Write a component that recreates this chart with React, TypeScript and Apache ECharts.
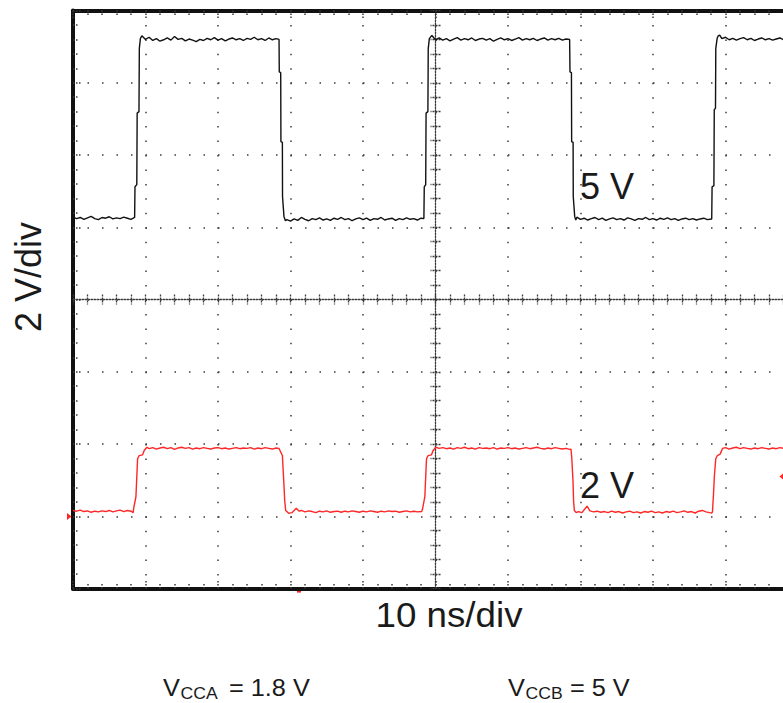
import React, { useEffect, useRef } from "react";
import * as echarts from "echarts";

// Axis scales (time in ns, voltage in V)
const timeRange = [0, 100];
const timeStep = 10;
const voltRange = [-8, 8];
const voltStep = 2;

// Texts
const xLabel = "10 ns/div";
const yLabel = "2 V/div";
const blackTag = "5 V";
const redTag = "2 V";
const vccaParts = ["V", "CCA", "= 1.8 V"];
const vccbParts = ["V", "CCB", "= 5 V"];

// Black trace (5 V channel): [time ns, volts]
const blackTrace: [number, number][] = [
  [0, 2.28], [0.5, 2.24], [1, 2.27], [1.5, 2.22], [2, 2.26], [2.5, 2.3], [3, 2.24], [3.5, 2.21], [4, 2.27],
  [4.5, 2.25], [5, 2.29], [5.5, 2.23], [6, 2.26], [6.5, 2.24], [7, 2.28], [7.5, 2.25], [8, 2.22], [8.5, 2.27],
  [8.55, 3.12], [8.8, 3.18], [8.85, 5.16], [9.1, 5.2], [9.15, 6.95], [9.3, 7.23],
  [9.5, 7.3], [10, 7.2], [10.5, 7.26], [11, 7.17], [11.5, 7.22], [12, 7.15], [12.5, 7.19], [13, 7.24], [13.5, 7.18],
  [14, 7.28], [14.5, 7.2], [15, 7.23], [15.5, 7.16], [16, 7.21], [16.5, 7.18], [17, 7.14], [17.5, 7.2], [18, 7.17],
  [18.5, 7.23], [19, 7.19], [19.5, 7.25], [20, 7.18], [20.5, 7.22], [21, 7.16], [21.5, 7.21], [22, 7.24], [22.5, 7.19],
  [23, 7.22], [23.5, 7.17], [24, 7.23], [24.5, 7.2], [25, 7.26], [25.5, 7.19], [26, 7.22], [26.5, 7.17], [27, 7.24],
  [27.5, 7.19], [28, 7.22], [28.42, 7.2],
  [28.45, 6.3], [28.65, 6.28], [28.68, 4.37], [28.88, 4.35], [28.9, 2.85], [29.1, 2.3], [29.3, 2.18],
  [29.5, 2.21], [30, 2.17], [30.5, 2.23], [31, 2.19], [31.5, 2.27], [32, 2.22], [32.5, 2.18], [33, 2.24], [33.5, 2.21],
  [34, 2.26], [34.5, 2.2], [35, 2.23], [35.5, 2.19], [36, 2.25], [36.5, 2.22], [37, 2.27], [37.5, 2.21], [38, 2.24],
  [38.5, 2.18], [39, 2.23], [39.5, 2.26], [40, 2.21], [40.5, 2.25], [41, 2.19], [41.5, 2.24], [42, 2.22], [42.5, 2.27],
  [43, 2.2], [43.5, 2.23], [44, 2.25], [44.5, 2.19], [45, 2.24], [45.5, 2.21], [46, 2.26], [46.5, 2.22], [47, 2.24],
  [47.5, 2.2], [48, 2.25], [48.4, 2.24],
  [48.45, 3.12], [48.65, 3.18], [48.7, 5.16], [48.95, 5.2], [49, 6.95], [49.15, 7.22],
  [49.5, 7.31], [50, 7.19], [50.5, 7.24], [51, 7.18], [51.5, 7.22], [52, 7.16], [52.5, 7.21], [53, 7.25], [53.5, 7.18],
  [54, 7.22], [54.5, 7.19], [55, 7.24], [55.5, 7.17], [56, 7.21], [56.5, 7.23], [57, 7.18], [57.5, 7.22], [58, 7.15],
  [58.5, 7.2], [59, 7.24], [59.5, 7.19], [60, 7.22], [60.5, 7.17], [61, 7.21], [61.5, 7.25], [62, 7.18], [62.5, 7.22],
  [63, 7.19], [63.5, 7.23], [64, 7.17], [64.5, 7.21], [65, 7.24], [65.5, 7.18], [66, 7.22], [66.5, 7.19], [67, 7.23],
  [67.5, 7.18], [68, 7.21], [68.5, 7.2],
  [68.55, 6.3], [68.75, 6.28], [68.78, 4.37], [68.98, 4.35], [69.0, 2.85], [69.2, 2.3], [69.35, 2.2],
  [69.5, 2.28], [70, 2.22], [70.5, 2.25], [71, 2.2], [71.5, 2.24], [72, 2.27], [72.5, 2.21], [73, 2.25], [73.5, 2.19],
  [74, 2.23], [74.5, 2.26], [75, 2.21], [75.5, 2.24], [76, 2.2], [76.5, 2.26], [77, 2.23], [77.5, 2.19], [78, 2.24],
  [78.5, 2.22], [79, 2.27], [79.5, 2.21], [80, 2.24], [80.5, 2.2], [81, 2.25], [81.5, 2.22], [82, 2.26], [82.5, 2.21],
  [83, 2.24], [83.5, 2.19], [84, 2.23], [84.5, 2.25], [85, 2.21], [85.5, 2.24], [86, 2.2], [86.5, 2.23], [87, 2.25],
  [87.5, 2.21], [88.1, 2.23],
  [88.15, 3.12], [88.4, 3.15], [88.45, 5.25], [88.62, 5.3], [88.66, 6.95], [88.85, 7.23], [89, 7.3], [89.2, 7.32],
  [89.5, 7.22], [90, 7.26], [90.5, 7.19], [91, 7.23], [91.5, 7.18], [92, 7.22], [92.5, 7.25], [93, 7.19], [93.5, 7.23],
  [94, 7.17], [94.5, 7.21], [95, 7.24], [95.5, 7.19], [96, 7.22], [96.5, 7.18], [97, 7.21], [97.5, 7.24], [98, 7.19],
  [98.5, 7.22], [99, 7.18], [99.5, 7.21], [100, 7.2],
];

// Red trace (2 V channel): [time ns, volts]
const redTrace: [number, number][] = [
  [0, -5.84], [0.5, -5.86], [1, -5.83], [1.5, -5.87], [2, -5.85], [2.5, -5.89], [3, -5.86], [3.5, -5.88], [4, -5.85],
  [4.5, -5.87], [5, -5.84], [5.5, -5.88], [6, -5.85], [6.5, -5.83], [7, -5.87], [7.5, -5.84], [8, -5.86], [8.3, -5.9],
  [8.36, -5.79], [8.68, -5.46], [8.91, -4.41], [9.13, -4.32], [9.6, -4.3], [9.82, -4.18], [10.19, -4.09],
  [10.5, -4.13], [11, -4.1], [11.5, -4.14], [12, -4.11], [12.5, -4.09], [13, -4.13], [13.5, -4.1], [14, -4.15],
  [14.5, -4.11], [15, -4.09], [15.5, -4.12], [16, -4.1], [16.5, -4.14], [17, -4.11], [17.5, -4.13], [18, -4.1],
  [18.5, -4.12], [19, -4.14], [19.5, -4.11], [20, -4.1], [20.5, -4.13], [21, -4.11], [21.5, -4.14], [22, -4.12],
  [22.5, -4.1], [23, -4.13], [23.5, -4.11], [24, -4.12], [24.5, -4.1], [25, -4.14], [25.5, -4.11], [26, -4.13],
  [26.5, -4.1], [27, -4.12], [27.5, -4.14], [28, -4.11], [28.4, -4.12],
  [28.55, -4.18], [28.88, -4.32], [29.1, -5.15], [29.2, -5.57], [29.34, -5.84], [29.75, -5.92],
  [30.2, -5.9], [30.8, -5.78], [31.2, -5.86], [31.5, -5.84], [32, -5.88], [32.5, -5.85], [33, -5.87], [33.5, -5.9],
  [34, -5.86], [34.5, -5.88], [35, -5.85], [35.5, -5.89], [36, -5.87], [36.5, -5.86], [37, -5.89], [37.5, -5.86],
  [38, -5.88], [38.5, -5.85], [39, -5.87], [39.5, -5.89], [40, -5.86], [40.5, -5.88], [41, -5.85], [41.5, -5.87],
  [42, -5.89], [42.5, -5.86], [43, -5.88], [43.5, -5.85], [44, -5.87], [44.5, -5.86], [45, -5.89], [45.5, -5.87],
  [46, -5.85], [46.5, -5.88], [47, -5.86], [47.5, -5.88], [48.1, -5.87],
  [48.21, -5.8], [48.53, -5.46], [48.76, -4.41], [48.98, -4.32], [49.45, -4.3], [49.67, -4.18], [50.04, -4.09],
  [50.5, -4.12], [51, -4.1], [51.5, -4.13], [52, -4.11], [52.5, -4.14], [53, -4.1], [53.5, -4.12], [54, -4.09],
  [54.5, -4.13], [55, -4.11], [55.5, -4.14], [56, -4.1], [56.5, -4.12], [57, -4.11], [57.5, -4.13], [58, -4.1],
  [58.5, -4.14], [59, -4.11], [59.5, -4.12], [60, -4.1], [60.5, -4.13], [61, -4.11], [61.5, -4.14], [62, -4.12],
  [62.5, -4.1], [63, -4.13], [63.5, -4.11], [64, -4.09], [64.5, -4.12], [65, -4.14], [65.5, -4.11], [66, -4.13],
  [66.5, -4.1], [67, -4.12], [67.5, -4.14], [68, -4.12], [68.5, -4.15],
  [68.69, -4.14], [68.8, -4.4], [68.97, -5.05], [69.05, -5.6], [69.15, -5.84], [69.4, -5.9],
  [69.7, -5.87], [70.2, -5.9], [70.9, -5.72], [71.3, -5.85], [71.8, -5.88], [72.3, -5.86], [72.8, -5.89], [73.3, -5.87],
  [73.8, -5.9], [74.3, -5.86], [74.8, -5.89], [75.3, -5.87], [75.8, -5.91], [76.3, -5.88], [76.8, -5.86], [77.3, -5.9],
  [77.8, -5.88], [78.3, -5.91], [78.8, -5.87], [79.3, -5.89], [79.8, -5.86], [80.3, -5.9], [80.8, -5.88], [81.3, -5.91],
  [81.8, -5.87], [82.3, -5.89], [82.8, -5.86], [83.3, -5.9], [83.8, -5.88], [84.3, -5.85], [84.8, -5.89], [85.3, -5.87],
  [85.8, -5.91], [86.3, -5.86], [86.8, -5.84], [87.3, -5.88], [87.8, -5.9], [88.1, -5.91],
  [88.2, -5.88], [88.33, -5.44], [88.47, -4.88], [88.66, -4.41], [88.88, -4.32], [89.26, -4.28], [89.6, -4.12],
  [90, -4.1], [90.5, -4.14], [91, -4.11], [91.5, -4.09], [92, -4.13], [92.5, -4.1], [93, -4.12], [93.5, -4.14],
  [94, -4.11], [94.5, -4.13], [95, -4.1], [95.5, -4.12], [96, -4.14], [96.5, -4.11], [97, -4.13], [97.5, -4.1],
  [98, -4.12], [98.5, -4.11], [99, -4.13], [99.5, -4.1], [100, -4.12],
];

const FONT = "'Liberation Sans', Arial, Helvetica, sans-serif";
const DOT = "#3a3a3a";

export default function App() {
  const ref = useRef<HTMLDivElement>(null);

  useEffect(() => {
    if (!ref.current) return;
    const chart = echarts.init(ref.current, undefined, { renderer: "svg" });

    const hidden = {
      axisLabel: { show: false },
      splitLine: { show: false },
      axisTick: { show: false },
      minorTick: { show: false },
      axisLine: { show: false, onZero: false },
    };
    const xBase = { type: "value", min: timeRange[0], max: timeRange[1], interval: timeStep, ...hidden };
    const yBase = { type: "value", min: voltRange[0], max: voltRange[1], interval: voltStep, ...hidden };
    const border = { show: true, onZero: false, lineStyle: { color: "#111", width: 4 } };
    const borderTick = { show: true, inside: true, length: 9, lineStyle: { color: DOT, width: 1.5, type: [1.5, 1.5] } };
    const borderMinor = { show: true, splitNumber: 5, length: 6, lineStyle: { color: DOT, width: 1.5, type: [1.5, 1.5] } };
    const centerLine = { show: true, onZero: false, lineStyle: { color: DOT, width: 1.3, type: [1.5, 1.5] } };
    const centerTick = { show: true, length: 10, lineStyle: { color: DOT, width: 1.3, type: [2, 1] } };
    const centerMinor = { show: true, splitNumber: 5, length: 10, lineStyle: { color: DOT, width: 1.3, type: [2, 1] } };

    const option: any = {
      animation: false,
      grid: {
        left: 73, top: 10.5, width: 725, height: 578,
        containLabel: false, outerBoundsMode: "none",
      },
      xAxis: [
        {
          ...xBase,
          position: "bottom",
          axisLine: border,
          axisTick: borderTick,
          minorTick: borderMinor,
          splitLine: { show: true, lineStyle: { color: DOT, width: 1.5, type: [1.5, 12.95] } },
        },
        { ...xBase, position: "top", axisLine: border, axisTick: borderTick, minorTick: borderMinor },
        { ...xBase, position: "bottom", offset: -289, axisLine: centerLine },
        { ...xBase, position: "bottom", offset: -294, axisTick: centerTick, minorTick: centerMinor },
      ],
      yAxis: [
        {
          ...yBase,
          position: "left",
          axisLine: border,
          axisTick: borderTick,
          minorTick: borderMinor,
          splitLine: { show: true, lineStyle: { color: DOT, width: 1.5, type: [1.5, 13] } },
        },
        { ...yBase, position: "right", axisLine: border },
        { ...yBase, position: "left", offset: -362.5, axisLine: centerLine },
        { ...yBase, position: "left", offset: -367.5, axisTick: centerTick, minorTick: centerMinor },
      ],
      series: [
        {
          type: "line",
          name: blackTag,
          xAxisIndex: 0,
          yAxisIndex: 0,
          data: blackTrace,
          showSymbol: false,
          symbol: "none",
          lineStyle: { color: "#111", width: 1.4 },
          z: 5,
        },
        {
          type: "line",
          name: redTag,
          xAxisIndex: 0,
          yAxisIndex: 0,
          data: redTrace,
          showSymbol: false,
          symbol: "none",
          lineStyle: { color: "#ff2626", width: 1.4 },
          z: 5,
        },
      ],
      graphic: {
        elements: [
          {
            type: "text", x: 580, y: 186, z: 10,
            style: { text: blackTag, fontSize: 36, fontFamily: FONT, fill: "#1a1a1a", align: "left", verticalAlign: "middle" },
          },
          {
            type: "text", x: 580, y: 485, z: 10,
            style: { text: redTag, fontSize: 36, fontFamily: FONT, fill: "#1a1a1a", align: "left", verticalAlign: "middle" },
          },
          {
            type: "text", x: 449, y: 615, scaleX: 1.05, z: 10,
            style: { text: xLabel, fontSize: 35, fontFamily: FONT, fill: "#1a1a1a", align: "center", verticalAlign: "middle" },
          },
          {
            type: "text", x: 28, y: 277, rotation: Math.PI / 2, z: 10,
            style: { text: yLabel, fontSize: 36, fontFamily: FONT, fill: "#1a1a1a", align: "center", verticalAlign: "middle" },
          },
          // V_CCA = 1.8 V
          { type: "text", x: 163, y: 688, scaleX: 1.1, style: { text: vccaParts[0], fontSize: 23, fontFamily: FONT, fill: "#1a1a1a", align: "left", verticalAlign: "middle" } },
          { type: "text", x: 180.5, y: 694, scaleX: 1.1, style: { text: vccaParts[1], fontSize: 16, fontFamily: FONT, fill: "#1a1a1a", align: "left", verticalAlign: "middle" } },
          { type: "text", x: 229, y: 688, scaleX: 1.1, style: { text: vccaParts[2], fontSize: 23, fontFamily: FONT, fill: "#1a1a1a", align: "left", verticalAlign: "middle" } },
          // V_CCB = 5 V
          { type: "text", x: 508, y: 688, scaleX: 1.1, style: { text: vccbParts[0], fontSize: 23, fontFamily: FONT, fill: "#1a1a1a", align: "left", verticalAlign: "middle" } },
          { type: "text", x: 525.5, y: 694, scaleX: 1.1, style: { text: vccbParts[1], fontSize: 16, fontFamily: FONT, fill: "#1a1a1a", align: "left", verticalAlign: "middle" } },
          { type: "text", x: 570, y: 688, scaleX: 1.1, style: { text: vccbParts[2], fontSize: 23, fontFamily: FONT, fill: "#1a1a1a", align: "left", verticalAlign: "middle" } },
          // channel / trigger markers
          { type: "polygon", z: 10, shape: { points: [[67, 513], [71.5, 516.5], [67, 520]] }, style: { fill: "#ff2626" } },
          { type: "polygon", z: 10, shape: { points: [[783, 473.5], [779.5, 476.5], [783, 479.5]] }, style: { fill: "#ff2626" } },
          { type: "rect", z: 10, shape: { x: 297, y: 591, width: 4, height: 1.6 }, style: { fill: "#ff2626" } },
        ],
      },
    };

    chart.setOption(option);
    return () => chart.dispose();
  }, []);

  return (
    <div
      ref={ref}
      style={{ position: "absolute", left: 0, top: 0, width: 783, height: 703, background: "#fff" }}
    />
  );
}
